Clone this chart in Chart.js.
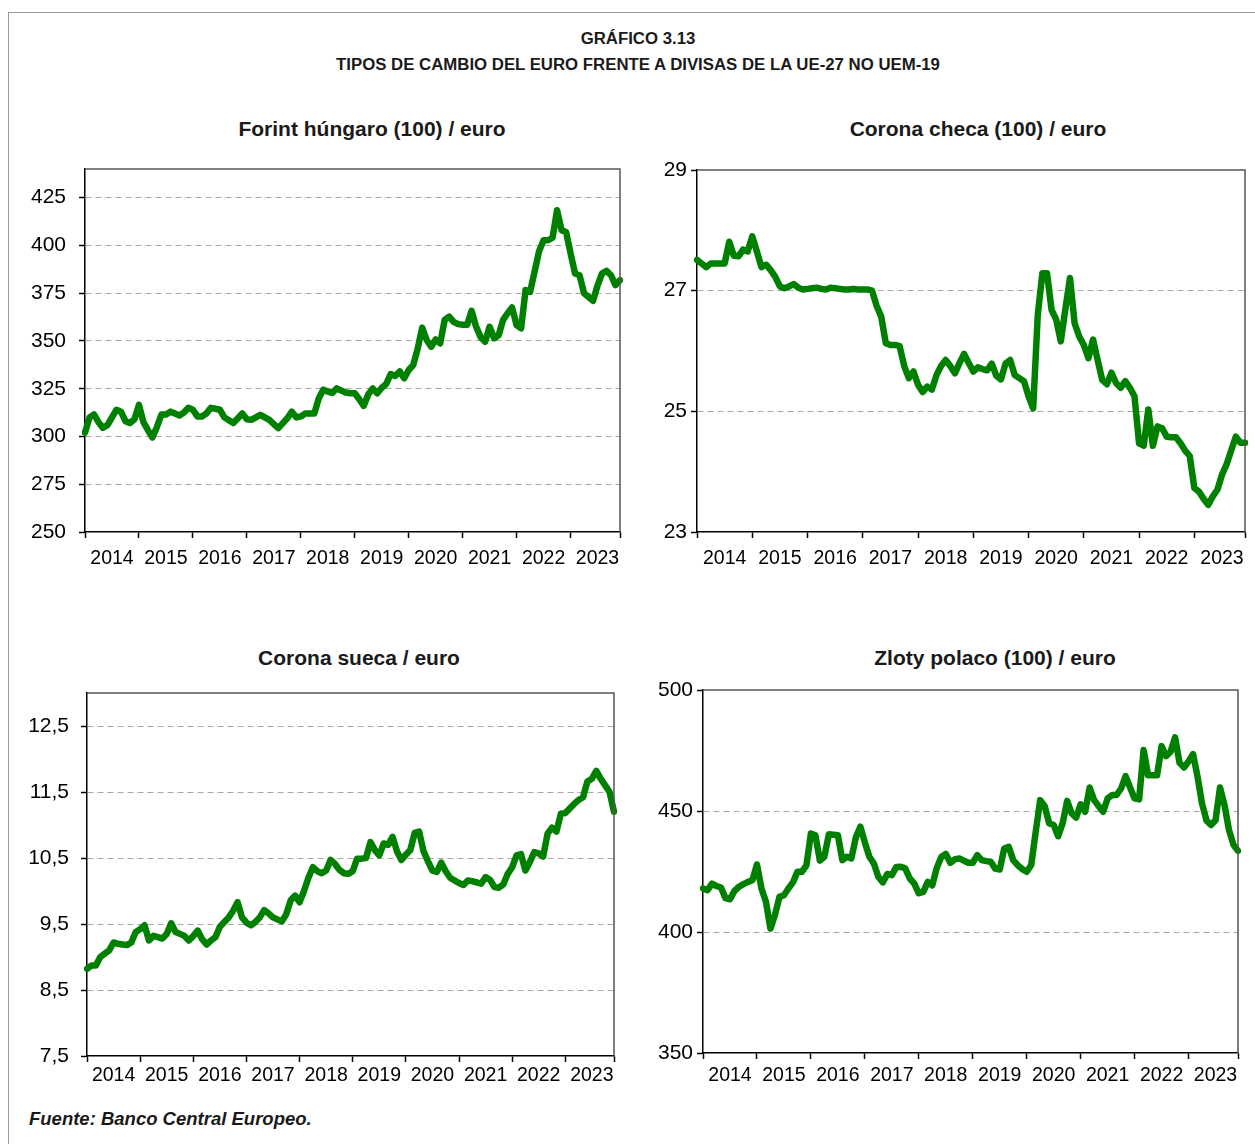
<!DOCTYPE html>
<html>
<head>
<meta charset="utf-8">
<script src="https://cdn.jsdelivr.net/npm/chart.js@4.4.0/dist/chart.umd.min.js"></script>
<style>
  html, body { margin: 0; padding: 0; background: #fff; }
  body { width: 1255px; height: 1144px; position: relative; overflow: hidden;
         font-family: 'Liberation Sans', Arial, sans-serif; color: #1a1a1a; }
  .frame { position: absolute; left: 8px; top: 12px; right: -2px; bottom: -2px;
           border-top: 1.5px solid #9a9a9a; border-left: 1.5px solid #9a9a9a; }
  .txt { position: absolute; white-space: nowrap; transform: translate(-50%, -50%); font-weight: bold; }
  .main { font-size: 16.8px; }
  .ptitle { font-size: 21px; }
  .src { position: absolute; left: 29px; top: 1108px; font-size: 18.5px; font-weight: bold; font-style: italic; white-space: nowrap; }
  canvas { position: absolute; }
</style>
</head>
<body>
<div class="frame"></div>
<div class="txt main" style="left:638px; top:39px">GRÁFICO 3.13</div>
<div class="txt main" style="left:638px; top:65px">TIPOS DE CAMBIO DEL EURO FRENTE A DIVISAS DE LA UE-27 NO UEM-19</div>
<div class="txt ptitle" style="left:372px; top:129px">Forint húngaro (100) / euro</div>
<div class="txt ptitle" style="left:978px; top:129px">Corona checa (100) / euro</div>
<div class="txt ptitle" style="left:359px; top:658px">Corona sueca / euro</div>
<div class="txt ptitle" style="left:995px; top:658px">Zloty polaco (100) / euro</div>
<div class="src">Fuente: Banco Central Europeo.</div>

<canvas id="c1"></canvas>
<canvas id="c2"></canvas>
<canvas id="c3"></canvas>
<canvas id="c4"></canvas>

<script>
// ===== Datos: medias mensuales, ene-2014 a dic-2023 =====
const years = ['2014', '2015', '2016', '2017', '2018', '2019', '2020', '2021', '2022', '2023'];

const forint = [
  302, 310, 311.5, 307.5, 304.5, 306, 310, 314, 313, 308, 307, 309,
  316.5, 307.5, 303.3, 299.5, 305, 311.5, 311.5, 313, 312, 311, 312.5, 315,
  314, 310.5, 310.5, 312, 315, 314.5, 314, 310, 308.5, 307, 309.5, 312,
  309, 308.7, 310, 311.3, 310, 308.7, 306.5, 304.4, 307, 309.5, 313, 310,
  310.5, 312, 312, 312, 320, 324.5, 323.5, 322.8, 325.2, 324, 323, 322.6,
  322.6, 319.5, 316, 322, 325.2, 322.6, 325.5, 327.5, 332.7, 331.7, 334, 330.5,
  334.8, 337.4, 346, 357, 350.5, 347, 350.8, 348.7, 361, 362.7, 360, 358.8,
  358.5, 358.5, 365.8, 357.4, 352, 349.6, 357.4, 351.4, 353, 361, 364.5, 367.5,
  358.3, 356.6, 376.6, 375.7, 386.2, 397, 402.7, 402.7, 404, 418.4, 408, 407,
  396, 385.3, 384.4, 375, 373, 371, 379, 385.3, 386.7, 384.4, 379.2, 381.8
];

const coronaCheca = [
  27.51, 27.45, 27.39, 27.45, 27.45, 27.45, 27.45, 27.81, 27.58, 27.57, 27.68, 27.65,
  27.9, 27.65, 27.39, 27.43, 27.34, 27.23, 27.07, 27.04, 27.07, 27.11, 27.05, 27.02,
  27.03, 27.04, 27.05, 27.03, 27.02, 27.05, 27.04, 27.03, 27.02, 27.02, 27.03, 27.02,
  27.02, 27.02, 27.0, 26.75, 26.57, 26.13, 26.1, 26.1, 26.08, 25.75, 25.55, 25.66,
  25.44, 25.32, 25.41, 25.36, 25.6, 25.75, 25.85, 25.75, 25.63, 25.8, 25.95, 25.8,
  25.66, 25.73, 25.7, 25.68, 25.79, 25.59, 25.53, 25.79, 25.85, 25.6, 25.55, 25.5,
  25.25, 25.05, 26.6, 27.29, 27.29, 26.68, 26.52, 26.16, 26.7, 27.21, 26.46, 26.24,
  26.1, 25.88, 26.19, 25.85, 25.52, 25.45, 25.64, 25.47, 25.39, 25.5, 25.39, 25.25,
  24.47, 24.43, 25.03, 24.43, 24.75, 24.72, 24.58, 24.57, 24.57, 24.47, 24.35, 24.26,
  23.73, 23.67, 23.55, 23.45, 23.59, 23.7, 23.95, 24.12, 24.35, 24.58, 24.48, 24.48
];

const coronaSueca = [
  8.82, 8.87, 8.87, 9.0, 9.05, 9.1, 9.22, 9.2, 9.19, 9.18, 9.22, 9.38,
  9.42, 9.48, 9.25, 9.32, 9.3, 9.28, 9.35, 9.51, 9.38, 9.35, 9.32, 9.25,
  9.32, 9.4, 9.27, 9.19, 9.25, 9.3, 9.46, 9.53, 9.6, 9.7, 9.83, 9.6,
  9.52, 9.48, 9.53, 9.6, 9.71, 9.66, 9.6, 9.57, 9.54, 9.65, 9.86, 9.93,
  9.83, 10.0, 10.2, 10.36, 10.3, 10.27, 10.31, 10.47, 10.41, 10.32, 10.27, 10.26,
  10.3, 10.49, 10.49, 10.5, 10.74, 10.62, 10.54, 10.72, 10.7, 10.82, 10.6, 10.47,
  10.55, 10.62, 10.88, 10.9, 10.6, 10.45, 10.31, 10.29, 10.43, 10.3, 10.2, 10.16,
  10.12, 10.09, 10.16, 10.15, 10.13, 10.11, 10.21, 10.17, 10.06, 10.05, 10.1, 10.26,
  10.36, 10.54, 10.56, 10.31, 10.44, 10.59, 10.57, 10.52, 10.87, 10.96, 10.9, 11.17,
  11.18, 11.25, 11.32, 11.38, 11.42, 11.66, 11.7, 11.82, 11.7, 11.6, 11.5, 11.2
];

const zloty = [
  418, 417.3, 420, 419, 418.4, 414, 413.5, 417, 418.7, 419.8, 420.7, 421.4,
  427.9, 418, 412.5, 401.4, 407, 414.5, 415.2, 418, 420.5, 424.9, 424.9, 427.5,
  440.7, 440, 429.5, 431.1, 440.4, 440.2, 440, 429.7, 431.1, 430.4, 439.1, 443.5,
  437, 431.1, 428.3, 422.8, 420.5, 424, 423.5, 426.9, 427, 426.2, 422.1, 420,
  416, 416.6, 420.7, 419.3, 426.5, 431, 432.3, 428.6, 430, 430.4, 429.5, 428.6,
  428.6, 431.8, 429.7, 429.3, 429, 426.2, 425.8, 434.5, 435.2, 429.7, 427.6, 426,
  424.9, 427.6, 441.4, 454.5, 452, 444.9, 444.2, 439.6, 445, 454.2, 449, 447.3,
  452.8, 449.7, 459.7, 454.5, 452, 449.7, 455.2, 456.6, 456.6, 459.3, 464.4, 459.7,
  455.2, 454.8, 475.2, 464.8, 464.8, 464.8, 476.8, 472.7, 474.5, 480.4, 469.9, 468,
  470.5, 473.5, 464.2, 453.1, 446, 444.2, 446.2, 459.7, 452.4, 442.1, 436, 433.5
];

const ticksForint = [250, 275, 300, 325, 350, 375, 400, 425];
const ticksCheca = [23, 25, 27, 29];
const ticksSueca = [7.5, 8.5, 9.5, 10.5, 11.5, 12.5];
const ticksZloty = [350, 400, 450, 500];

// etiquetas mensuales (una por dato)
const months = [];
years.forEach(y => { for (let m = 1; m <= 12; m++) months.push(y + '-' + m); });

Chart.defaults.font.family = "'Liberation Sans', Arial, sans-serif";
Chart.defaults.color = '#000';

const LEFT = 70, TOP = 32, RIGHT = 10, BOTTOM = 50;

// borde superior y derecho del área de trazado
const framePlugin = {
  id: 'frame',
  afterDraw(chart) {
    const { ctx, chartArea: a } = chart;
    ctx.save();
    ctx.strokeStyle = '#555';
    ctx.lineWidth = 1.5;
    ctx.beginPath();
    ctx.moveTo(a.left, a.top);
    ctx.lineTo(a.right, a.top);
    ctx.lineTo(a.right, a.bottom);
    ctx.stroke();
    ctx.restore();
  }
};

function makePanel(id, box, values, yMin, yMax, yTicks, yPad, xPad, fmt) {
  const canvas = document.getElementById(id);
  const w = box.r - box.l + LEFT + RIGHT;
  const h = box.b - box.t + TOP + BOTTOM;
  canvas.width = w; canvas.height = h;
  canvas.style.left = (box.l - LEFT) + 'px';
  canvas.style.top = (box.t - TOP) + 'px';
  canvas.style.width = w + 'px';
  canvas.style.height = h + 'px';
  const n = values.length;

  return new Chart(canvas.getContext('2d'), {
    type: 'line',
    data: {
      labels: months,
      datasets: [{
        data: values,
        borderColor: '#008000',
        borderWidth: 6.5,
        borderJoinStyle: 'round',
        borderCapStyle: 'round',
        pointRadius: 0,
        tension: 0,
        fill: false
      }]
    },
    options: {
      responsive: false, animation: false, devicePixelRatio: 1,
      layout: { padding: { top: TOP, right: RIGHT, left: 0, bottom: 0 } },
      plugins: { legend: { display: false }, tooltip: { enabled: false } },
      scales: {
        x: {
          type: 'category', offset: false,
          afterFit: s => { s.height = BOTTOM; },
          grid: {
            drawOnChartArea: false, drawTicks: true, tickLength: 6, tickWidth: 1.5,
            tickColor: c => (c.index % 12 === 0 || c.index === n - 1) ? '#000' : 'rgba(0,0,0,0)'
          },
          border: { color: '#000', width: 1.5 },
          ticks: {
            autoSkip: false, maxRotation: 0, minRotation: 0, padding: xPad,
            font: { size: 19.5 }, color: '#000',
            callback: (v, i) => (i % 12 === 6 ? years[Math.floor(i / 12)] : '')
          }
        },
        y: {
          type: 'linear', min: yMin, max: yMax,
          afterBuildTicks: s => { s.ticks = yTicks.map(v => ({ value: v })); },
          afterFit: s => { s.width = LEFT; },
          grid: {
            color: c => (c.tick && (c.tick.value === yMin || c.tick.value === yMax)) ? 'rgba(0,0,0,0)' : '#a8a8a8',
            lineWidth: 1, drawTicks: true, tickLength: 6, tickWidth: 1.5, tickColor: '#000',
            tickBorderDash: []
          },
          border: { color: '#000', width: 1.5, dash: [6, 4] },
          ticks: { font: { size: 21 }, color: '#000', padding: yPad, callback: v => fmt(v) }
        }
      }
    },
    plugins: [framePlugin]
  });
}

const plain = v => String(v);
const comma = v => v.toFixed(1).replace('.', ',');

makePanel('c1', { l: 85, t: 169, r: 620, b: 532 }, forint, 250, 440, ticksForint, 13, 9, plain);
makePanel('c2', { l: 697, t: 170, r: 1245, b: 532 }, coronaCheca, 23, 29, ticksCheca, 4, 9, plain);
makePanel('c3', { l: 87, t: 693, r: 614, b: 1056 }, coronaSueca, 7.5, 13, ticksSueca, 12, 2, comma);
makePanel('c4', { l: 703, t: 690, r: 1238, b: 1053 }, zloty, 350, 500, ticksZloty, 4, 5, plain);
</script>
</body>
</html>
